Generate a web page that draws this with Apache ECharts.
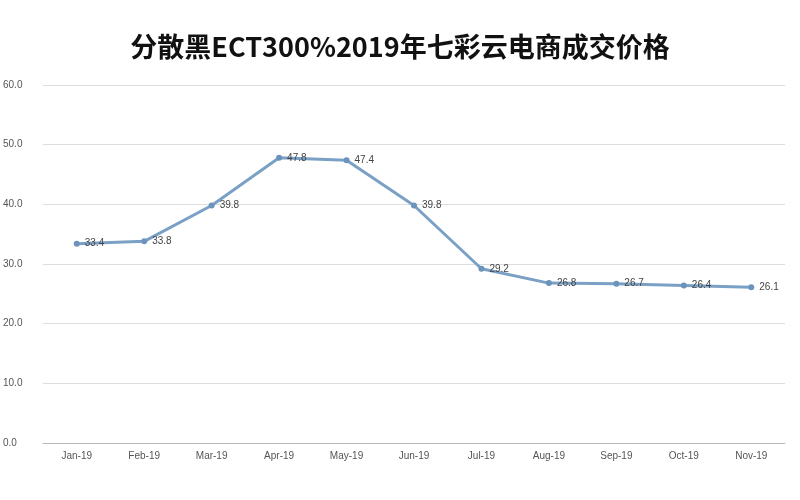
<!DOCTYPE html><html><head><meta charset="utf-8"><script src="https://cdn.jsdelivr.net/npm/echarts@6/dist/echarts.min.js"></script></head><body style="margin:0"><div id="c" style="width:800px;height:500px"></div><script>
const categories=['Jan-19','Feb-19','Mar-19','Apr-19','May-19','Jun-19','Jul-19','Aug-19','Sep-19','Oct-19','Nov-19'];
const values=[33.4,33.8,39.8,47.8,47.4,39.8,29.2,26.8,26.7,26.4,26.1];
const yTicks={min:0,max:60,interval:10};
const c=echarts.init(document.getElementById('c'));
c.setOption({
title:{text:'分散黑ECT300%2019年七彩云电商成交价格',left:'center',top:28,textStyle:{fontSize:27,fontWeight:'bold',color:'#111',fontFamily:'Noto Sans CJK SC'}},
grid:{left:40,right:15,top:85,bottom:57},
xAxis:{type:'category',data:categories,axisTick:{show:false},axisLine:{lineStyle:{color:'#bbb'}},axisLabel:{fontSize:10,color:'#555'}},
yAxis:{type:'value',min:yTicks.min,max:yTicks.max,interval:yTicks.interval,axisLabel:{fontSize:10,color:'#555',formatter:v=>v.toFixed(1),align:'left',margin:40},splitLine:{lineStyle:{color:'#ddd'}}},
series:[{type:'line',data:values,symbol:'circle',symbolSize:6,itemStyle:{color:'#6b93bc'},lineStyle:{color:'#7ba0c6',width:3},label:{show:true,position:'right',fontSize:10,color:'#444',formatter:p=>p.value.toFixed(1)}}]
});
</script></body></html>
